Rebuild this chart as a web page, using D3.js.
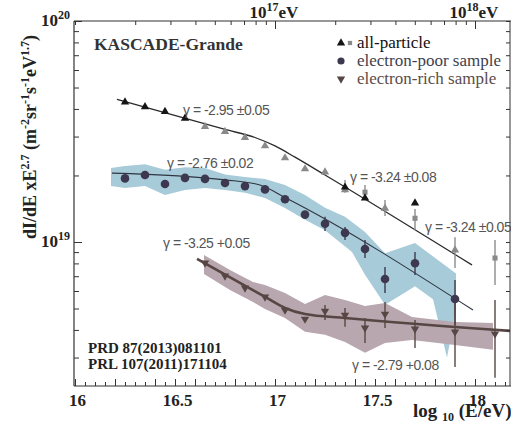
<!DOCTYPE html>
<html>
<head>
<meta charset="utf-8">
<script src="https://cdn.jsdelivr.net/npm/d3@7"></script>
<style>
  body { margin: 0; background: #fff; }
  svg { display: block; }
  .serif { font-family: "Liberation Serif", "Times New Roman", serif; }
  .sans { font-family: "Liberation Sans", Arial, sans-serif; }
</style>
</head>
<body>
<svg id="chart" width="511" height="436"></svg>
<script>
// ---- data: log10(E/eV) positions and flux values dI/dE x E^2.7 ----

// all-particle spectrum, black triangles
const blackTriLg = [16.25, 16.35, 16.45, 16.55, 17.35, 17.45, 17.7];
const blackTri   = [4.30e19, 4.09e19, 3.89e19, 3.63e19, 1.77e19, 1.58e19, 1.50e19];

// all-particle spectrum, grey points (triangles)
const grayTriLg = [16.65, 16.75, 16.85, 16.95, 17.05, 17.15, 17.25, 17.35, 17.55, 17.9];
const grayTri   = [3.33e19, 3.16e19, 2.97e19, 2.72e19, 2.40e19, 2.14e19, 2.07e19, 1.72e19, 1.42e19, 9.2e18];
const grayTriLo = [3.27e19, 3.10e19, 2.91e19, 2.67e19, 2.35e19, 2.10e19, 2.02e19, 1.67e19, 1.31e19, 7.63e18];
const grayTriHi = [3.39e19, 3.22e19, 3.03e19, 2.77e19, 2.45e19, 2.18e19, 2.14e19, 1.91e19, 1.55e19, 1.05e19];

// all-particle spectrum, grey squares
const graySqLg = [17.45, 17.7, 18.1];
const graySq   = [1.68e19, 1.28e19, 8.46e18];
const graySqLo = [1.55e19, 1.13e19, 6.39e18];
const graySqHi = [1.81e19, 1.41e19, 1.02e19];

// smoothly broken power-law fit to the all-particle spectrum
const allFitLg = [16.21, 16.75, 16.9, 17.0, 17.1, 17.25, 17.985];
const allFit   = [4.42e19, 3.23e19, 2.97e19, 2.72e19, 2.42e19, 2.01e19, 7.87e18];

// electron-poor sample
const poorLg = [16.25, 16.35, 16.45, 16.55, 16.65, 16.75, 16.85, 16.95, 17.05, 17.15, 17.25, 17.35, 17.45, 17.55, 17.7, 17.9];
const poor   = [1.94e19, 2.01e19, 1.83e19, 1.95e19, 1.93e19, 1.85e19, 1.79e19, 1.73e19, 1.56e19, 1.33e19, 1.21e19, 1.10e19, 9.30e18, 6.80e18, 8.01e18, 5.52e18];
const poorLo = [1.90e19, 1.97e19, 1.79e19, 1.91e19, 1.89e19, 1.81e19, 1.75e19, 1.69e19, 1.52e19, 1.29e19, 1.12e19, 1.02e19, 8.46e18, 5.88e18, 7.09e18, 4.21e18];
const poorHi = [1.98e19, 2.05e19, 1.87e19, 1.99e19, 1.97e19, 1.89e19, 1.83e19, 1.77e19, 1.60e19, 1.37e19, 1.30e19, 1.17e19, 1.02e19, 7.71e18, 9.01e18, 6.73e18];

const poorFitLg = [16.185, 16.75, 16.925, 17.05, 17.99];
const poorFit   = [2.05e19, 1.91e19, 1.81e19, 1.59e19, 4.92e18];

// systematic band of the electron-poor sample
const poorBandHiLg = [16.18, 16.25, 16.35, 16.45, 16.55, 16.65, 16.75, 16.85, 16.95, 17.05, 17.15, 17.25, 17.35, 17.45, 17.55, 17.7, 17.905];
const poorBandHi   = [2.16e19, 2.21e19, 2.25e19, 2.12e19, 2.18e19, 2.16e19, 2.02e19, 1.97e19, 1.93e19, 1.81e19, 1.63e19, 1.43e19, 1.30e19, 1.11e19, 8.9e18, 9.9e18, 7.2e18];
const poorBandLoLg = [16.18, 16.25, 16.35, 16.45, 16.55, 16.65, 16.75, 16.85, 16.95, 17.05, 17.15, 17.25, 17.385, 17.45, 17.55, 17.65, 17.7, 17.79, 17.86, 17.905];
const poorBandLo   = [1.79e19, 1.755e19, 1.79e19, 1.63e19, 1.72e19, 1.755e19, 1.72e19, 1.67e19, 1.58e19, 1.425e19, 1.26e19, 1.13e19, 9.0e18, 7.1e18, 5.2e18, 5.9e18, 6.3e18, 5.5e18, 3.0e18, 4.9e18];

// electron-rich sample
const richLg = [16.65, 16.75, 16.85, 16.95, 17.05, 17.15, 17.25, 17.35, 17.45, 17.55, 17.7, 17.9, 18.1];
const rich   = [8.04e18, 7.02e18, 6.19e18, 5.64e18, 4.92e18, 4.48e18, 4.87e18, 4.67e18, 4.08e18, 4.72e18, 4.04e18, 3.92e18, 3.84e18];
const richLo = [7.90e18, 6.90e18, 6.08e18, 5.54e18, 4.83e18, 4.40e18, 4.44e18, 4.13e18, 3.49e18, 4.08e18, 3.31e18, 2.72e18, 2.43e18];
const richHi = [8.18e18, 7.14e18, 6.30e18, 5.74e18, 5.01e18, 4.56e18, 5.19e18, 5.03e18, 4.53e18, 5.35e18, 4.44e18, 5.47e18, 5.47e18];

const richFitLg = [16.61, 16.95, 17.05, 17.15, 17.35, 18.175];
const richFit   = [8.38e18, 5.64e18, 5.03e18, 4.72e18, 4.53e18, 3.96e18];

const richBandLg = [16.645, 16.775, 16.89, 16.95, 17.05, 17.15, 17.25, 17.35, 17.45, 17.55, 17.685, 17.9, 18.09];
const richBandHi = [8.73e18, 7.47e18, 6.59e18, 6.39e18, 5.88e18, 5.24e18, 5.76e18, 5.47e18, 5.13e18, 5.30e18, 4.58e18, 4.34e18, 4.30e18];
const richBandLo = [7.17e18, 6.06e18, 5.35e18, 4.97e18, 4.53e18, 3.92e18, 3.80e18, 3.53e18, 3.15e18, 3.49e18, 3.60e18, 3.42e18, 3.25e18];

// axis labels
const xTickLabels = ["16", "16.5", "17", "17.5", "18"];
const xLabelTicks = [16, 16.5, 17, 17.5, 18];
const yLabelTicks = [1e19, 1e20];
const yLabelExp = ["19", "20"];
const topLabelTicks = [1e17, 1e18];
const topLabelExp = ["17", "18"];

// fit annotations: text, anchor at (log10 E, flux)
const gammaText = ["γ = -2.95 ±0.05", "γ = -2.76 ±0.02", "γ = -3.24 ±0.08", "γ = -3.24 ±0.05", "γ = -3.25 +0.05", "γ = -2.79 +0.08"];
const gammaLg   = [16.54, 16.46, 17.375, 17.75, 16.44, 17.385];
const gammaVal  = [3.76e19, 2.16e19, 1.87e19, 1.11e19, 9.4e18, 2.64e18];

const refs = ["PRD 87(2013)081101", "PRL 107(2011)171104"];

// ---- scales ----
const svg = d3.select("#chart");
const X0 = 75, X1 = 510, Y0 = 386, Y1 = 21;
const x = d3.scaleLinear().domain([16, 18.175]).range([X0, X1]);
const y = d3.scaleLog().domain([2.23e18, 1e20]).range([Y0, Y1]);
const e = d3.scaleLog().domain([1e16, Math.pow(10, 18.175)]).range([X0, X1]);

const zip = (a, b) => a.map((v, i) => [v, b[i]]);
const line = d3.line().x(d => x(d[0])).y(d => y(d[1]));
const smooth = d3.line().x(d => x(d[0])).y(d => y(d[1])).curve(d3.curveMonotoneX);

// ---- bands ----
function band(hiLg, hi, loLg, lo) {
  const pts = zip(hiLg, hi).concat(zip(loLg, lo).reverse());
  return line(pts) + "Z";
}
svg.append("path").attr("d", band(poorBandHiLg, poorBandHi, poorBandLoLg, poorBandLo))
  .attr("fill", "#a7cbd8");
svg.append("path").attr("d", band(richBandLg, richBandHi, richBandLg, richBandLo))
  .attr("fill", "#b8a7af");

// ---- fit lines ----
svg.append("path").attr("d", smooth(zip(allFitLg, allFit))).attr("fill", "none")
  .attr("stroke", "#2b2b2b").attr("stroke-width", 1.3);
svg.append("path").attr("d", smooth(zip(poorFitLg, poorFit))).attr("fill", "none")
  .attr("stroke", "#2f3542").attr("stroke-width", 1.1);
svg.append("path").attr("d", smooth(zip(richFitLg, richFit))).attr("fill", "none")
  .attr("stroke", "#574643").attr("stroke-width", 2.6);

// ---- error bars ----
function errBars(lg, lo, hi, color, w) {
  svg.append("g").selectAll("line").data(lg).join("line")
    .attr("x1", d => x(d)).attr("x2", d => x(d))
    .attr("y1", (d, i) => y(lo[i])).attr("y2", (d, i) => y(hi[i]))
    .attr("stroke", color).attr("stroke-width", w);
}
errBars(grayTriLg, grayTriLo, grayTriHi, "#8c8c8c", 1.4);
errBars(graySqLg, graySqLo, graySqHi, "#8c8c8c", 1.4);
errBars(poorLg, poorLo, poorHi, "#3c3a4c", 1.4);
errBars(richLg, richLo, richHi, "#574643", 1.4);

// ---- markers ----
const triUp = d3.symbol().type(d3.symbolTriangle).size(30);
const sq = d3.symbol().type(d3.symbolSquare).size(26);
function markers(lg, vals, sym, color, rot) {
  svg.append("g").selectAll("path").data(lg).join("path")
    .attr("d", sym)
    .attr("transform", (d, i) => `translate(${x(d)},${y(vals[i])})` + (rot ? " rotate(180)" : ""))
    .attr("fill", color);
}
markers(grayTriLg, grayTri, triUp, "#8a8a8a");
markers(graySqLg, graySq, sq, "#8a8a8a");
markers(blackTriLg, blackTri, triUp, "#151515");
svg.append("g").selectAll("circle").data(poorLg).join("circle")
  .attr("cx", d => x(d)).attr("cy", (d, i) => y(poor[i])).attr("r", 4.3)
  .attr("fill", "#3d3850");
markers(richLg, rich, triUp, "#574643", true);

// ---- axes ----
const axes = svg.append("g").attr("stroke", "#333");
axes.append("line").attr("x1", X0 - 1).attr("x2", X0 - 1).attr("y1", Y1).attr("y2", Y0).attr("stroke-width", 1.2);
axes.append("line").attr("x1", X0 - 1).attr("x2", 511).attr("y1", Y0).attr("y2", Y0).attr("stroke-width", 1.2);
axes.append("line").attr("x1", X0 - 1).attr("x2", 511).attr("y1", Y1).attr("y2", Y1).attr("stroke-width", 1.2);
axes.append("line").attr("x1", X1).attr("x2", X1).attr("y1", Y1).attr("y2", Y0).attr("stroke-width", 1);

function cleanAxis(g) {
  g.select(".domain").remove();
  g.selectAll(".tick line").attr("stroke", "#333").attr("stroke-width", 1);
}
// bottom: minor, medium, labelled
svg.append("g").attr("transform", `translate(0,${Y0})`)
  .call(d3.axisBottom(x).ticks(40).tickSize(-4).tickFormat("")).call(cleanAxis);
svg.append("g").attr("transform", `translate(0,${Y0})`)
  .call(d3.axisBottom(x).ticks(8).tickSize(-7).tickFormat("")).call(cleanAxis);
const xb = svg.append("g").attr("transform", `translate(0,${Y0})`)
  .call(d3.axisBottom(x).tickValues(xLabelTicks).tickSize(-7).tickPadding(8)
    .tickFormat((d, i) => xTickLabels[i])).call(cleanAxis);
xb.selectAll("text").attr("class", "serif").attr("font-size", 17).attr("font-weight", "bold")
  .attr("fill", "#222").attr("dx", 2);

// left and right: log ticks
const yTicks = y.ticks();
svg.append("g").attr("transform", `translate(${X0 - 1},0)`)
  .call(d3.axisLeft(y).tickValues(yTicks.filter(t => !yLabelTicks.includes(t))).tickSize(-5).tickFormat(""))
  .call(cleanAxis);
svg.append("g").attr("transform", `translate(${X0 - 1},0)`)
  .call(d3.axisLeft(y).tickValues(yLabelTicks).tickSize(-8).tickFormat(""))
  .call(cleanAxis);
svg.append("g").attr("transform", `translate(${X1},0)`)
  .call(d3.axisRight(y).tickValues(yTicks).tickSize(-4).tickFormat(""))
  .call(cleanAxis);

// top: energy in eV
const eTicks = e.ticks();
svg.append("g").attr("transform", `translate(0,${Y1})`)
  .call(d3.axisTop(e).tickValues(eTicks.filter(t => !topLabelTicks.includes(t))).tickSize(-4).tickFormat(""))
  .call(cleanAxis);
svg.append("g").attr("transform", `translate(0,${Y1})`)
  .call(d3.axisTop(e).tickValues(topLabelTicks).tickSize(-8).tickFormat(""))
  .call(cleanAxis);

// ---- axis labels ----
const txt = svg.append("g").attr("class", "serif").attr("font-weight", "bold").attr("fill", "#222");

yLabelTicks.forEach((t, i) => {
  const tx = txt.append("text").attr("x", 70).attr("y", y(t) + 5).attr("text-anchor", "end")
    .attr("font-size", 17).text("10");
  tx.append("tspan").attr("dy", -7).attr("font-size", 12).text(yLabelExp[i]);
});

topLabelTicks.forEach((t, i) => {
  const tx = txt.append("text").attr("x", e(t) - 1).attr("y", Y1 - 3).attr("text-anchor", "middle")
    .attr("font-size", 17).text("10");
  tx.append("tspan").attr("dy", -7).attr("font-size", 12).text(topLabelExp[i]);
  tx.append("tspan").attr("dy", 7).text("eV");
});

// y title
const yt = txt.append("text").attr("transform", "translate(36,137) rotate(-90)")
  .attr("text-anchor", "middle").attr("font-size", 18);
const yParts = [["dI/dE xE", 0], ["2.7", 1], [" (m", 0], ["-2", 1], ["sr", 0], ["-1", 1], ["s", 0], ["-1", 1], ["eV", 0], ["1.7", 1], [")", 0]];
let up = false;
yParts.forEach(([s, sup]) => {
  const t = yt.append("tspan").text(s);
  if (sup && !up) { t.attr("dy", -7).attr("font-size", 12); up = true; }
  else if (sup) { t.attr("font-size", 12); }
  else if (up) { t.attr("dy", 7); up = false; }
});

// x title
const xt = txt.append("text").attr("x", 413).attr("y", 417).attr("font-size", 19).text("log ");
xt.append("tspan").attr("dy", 4).attr("font-size", 12).text("10");
xt.append("tspan").attr("dy", -4).text(" (E/eV)");

// experiment name and references
txt.append("text").attr("x", 94).attr("y", 50).attr("font-size", 17.5).attr("fill", "#333").text("KASCADE-Grande");
refs.forEach((r, i) => {
  txt.append("text").attr("x", 88).attr("y", 353 + i * 16).attr("font-size", 15).text(r);
});

// ---- legend ----
const leg = svg.append("g");
const legNames = ["all-particle", "electron-poor sample", "electron-rich sample"];
const legColors = ["#111", "#3e4150", "#5b4c48"];
legNames.forEach((n, i) => {
  leg.append("text").attr("class", "serif").attr("x", 357).attr("y", 48 + i * 18)
    .attr("font-size", 17).attr("fill", legColors[i]).text(n);
});
leg.append("path").attr("d", triUp).attr("transform", "translate(341,43)").attr("fill", "#151515");
leg.append("path").attr("d", d3.symbol().type(d3.symbolSquare).size(18)).attr("transform", "translate(350,43)").attr("fill", "#8a8a8a");
leg.append("circle").attr("cx", 341).attr("cy", 61).attr("r", 3.6).attr("fill", "#3d3850");
leg.append("path").attr("d", triUp).attr("transform", "translate(341,79) rotate(180)").attr("fill", "#574643");

// ---- fit annotations ----
svg.append("g").attr("class", "sans").attr("font-size", 14).attr("letter-spacing", -0.5).attr("fill", "#555")
  .selectAll("text").data(gammaText).join("text")
  .attr("x", (d, i) => x(gammaLg[i])).attr("y", (d, i) => y(gammaVal[i]))
  .text(d => d);
</script>
</body>
</html>
